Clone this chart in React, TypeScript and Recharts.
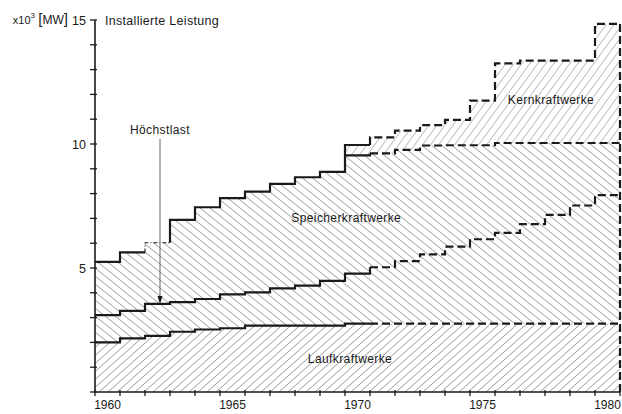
import React from 'react';
import { ComposedChart, Area, Line, XAxis, YAxis, ReferenceLine, ReferenceDot } from 'recharts';

// ---- data (x10^3 MW), one value per year ----
const years = [1960, 1961, 1962, 1963, 1964, 1965, 1966, 1967, 1968, 1969, 1970, 1971, 1972, 1973, 1974, 1975, 1976, 1977, 1978, 1979, 1980];
const laufkraftwerke = [2.0, 2.16, 2.26, 2.43, 2.52, 2.57, 2.68, 2.68, 2.68, 2.68, 2.76, 2.76, 2.76, 2.76, 2.76, 2.76, 2.76, 2.76, 2.76, 2.76, 2.76];
const speicherOben = [5.25, 5.63, 6.02, 6.94, 7.45, 7.82, 8.08, 8.39, 8.66, 8.88, 9.54, 9.62, 9.76, 9.94, 9.95, 9.95, 10.04, 10.04, 10.04, 10.04, 10.04];
const gesamt = [5.25, 5.63, 6.02, 6.94, 7.45, 7.82, 8.08, 8.39, 8.66, 8.88, 9.96, 10.27, 10.54, 10.76, 10.97, 11.75, 13.25, 13.36, 13.36, 13.36, 14.84];
const hoechstlast = [3.1, 3.27, 3.55, 3.62, 3.75, 3.94, 4.02, 4.18, 4.29, 4.48, 4.77, 5.03, 5.28, 5.55, 5.86, 6.16, 6.42, 6.77, 7.14, 7.52, 7.94];

const xTickLabels = [1960, 1965, 1970, 1975, 1980];
const yTicks = [0, 1, 2, 3, 4, 5, 6, 7, 8, 9, 10, 11, 12, 13, 14, 15];
const yTickLabels = [5, 10, 15];

const LAST_SOLID_YEAR = 1970;
const KERN_START_YEAR = 1970;
const THIN_YEAR = 1962;

const INK = '#1a1a1a';
const HATCH = '#8c8c8c';
const FONT = '"Liberation Sans", Arial, Helvetica, sans-serif';

// ---- build table for the library ----
const n = years.length;
const splitRow = years.indexOf(LAST_SOLID_YEAR) + 1;
const kernRow = years.indexOf(KERN_START_YEAR);
const t = years.indexOf(THIN_YEAR);

const rows = [] as any[];
for (let j = 0; j <= n; j++) {
  const i = Math.min(j, n - 1);
  const p = Math.max(j - 1, 0);
  rows.push({
    x: years[0] - 0.5 + j,
    laufBand: [0, laufkraftwerke[i]],
    speicherBand: [laufkraftwerke[i], speicherOben[i]],
    kernBand: [speicherOben[i], gesamt[i]],
    laufSolid: j <= splitRow ? laufkraftwerke[i] : null,
    laufDash: j >= splitRow ? laufkraftwerke[i] : null,
    hlSolid: j <= splitRow ? hoechstlast[i] : null,
    hlDash: j >= splitRow ? hoechstlast[i] : null,
    midSolid: j >= kernRow && j <= splitRow ? speicherOben[i] : null,
    midDash: j >= splitRow ? speicherOben[i] : null,
    totA: j < t ? gesamt[j] : j === t ? gesamt[t - 1] : null,
    totThin: j === t ? gesamt[t - 1] : j === t + 1 ? gesamt[t] : null,
    totB: j >= t + 1 && j <= splitRow ? gesamt[p] : null,
    totDash: j >= splitRow ? gesamt[p] : null,
  });
}

const xBoundaries = [...years.map((y) => y - 0.5), years[n - 1] + 0.5];
const xTicks = [...xBoundaries, ...xTickLabels];

const XTick = (props: any) => {
  const { x, y, payload } = props;
  const v = payload.value;
  if (v % 1 !== 0) {
    return <line x1={x} x2={x} y1={y - 2} y2={y + 4} stroke={INK} strokeWidth={1.3} />;
  }
  return (
    <text x={x} y={y + 17} textAnchor="middle" fontSize={12} fill={INK} fontFamily={FONT}>
      {v}
    </text>
  );
};

const YTick = (props: any) => {
  const { x, y, payload } = props;
  const v = payload.value;
  return (
    <g>
      <line x1={x - 5} x2={x + 2} y1={y} y2={y} stroke={INK} strokeWidth={1.3} />
      {yTickLabels.includes(v) && (
        <text x={x - 9} y={y + 4.5} textAnchor="end" fontSize={12.5} fill={INK} fontFamily={FONT}>
          {v}
        </text>
      )}
    </g>
  );
};

const textShape = (label: string, size = 12, spacing = 0.4) => (props: any) => (
  <text
    x={props.cx}
    y={props.cy + 4}
    textAnchor="middle"
    fontSize={size}
    letterSpacing={spacing}
    fill={INK}
    fontFamily={FONT}
  >
    {label}
  </text>
);

const headerShape = (props: any) => {
  const { cx, cy } = props;
  return (
    <g fontFamily={FONT} fill={INK}>
      <text x={cx - 27} y={cy + 4} textAnchor="end" fontSize={12}>
        <tspan fontSize={11}>x10</tspan>
        <tspan dy={-6} fontSize={8}>3</tspan>
        <tspan dy={6} fontSize={12}> </tspan>
        <tspan fontSize={15}>[</tspan>
        <tspan fontSize={12}>MW</tspan>
        <tspan fontSize={15}>]</tspan>
      </text>
      <text x={cx + 10} y={cy + 4.5} fontSize={12.5} letterSpacing={0.3}>
        Installierte Leistung
      </text>
    </g>
  );
};

const arrowHead = (props: any) => {
  const { cx, cy } = props;
  return <polygon points={`${cx - 2.5},${cy - 8} ${cx + 2.5},${cy - 8} ${cx},${cy}`} fill={INK} />;
};

export default function App() {
  const lineCommon = {
    dot: false,
    activeDot: false,
    isAnimationActive: false,
    connectNulls: false,
    stroke: INK,
    strokeWidth: 2.2,
    legendType: 'none' as const,
  };
  const dash = '8 4';
  return (
    <div style={{ position: 'absolute', left: 0, top: 0, width: 622, height: 414, background: '#fff' }}>
      <ComposedChart
        width={622}
        height={414}
        data={rows}
        margin={{ top: 20, right: 2, bottom: 0, left: 0 }}
        style={{ fontFamily: FONT }}
      >
        <defs>
          <pattern id="hatchLauf" patternUnits="userSpaceOnUse" width={9} height={8}>
            <path d="M0,8 L9,0 M-1,0.89 L1,-0.89 M8,8.89 L10,7.11" stroke={HATCH} strokeWidth={0.9} fill="none" />
          </pattern>
          <pattern id="hatchSpeicher" patternUnits="userSpaceOnUse" width={10} height={8}>
            <path d="M0,0 L10,8 M9,-0.8 L11,0.8 M-1,7.2 L1,8.8" stroke={HATCH} strokeWidth={0.9} fill="none" />
          </pattern>
          <pattern id="hatchKern" patternUnits="userSpaceOnUse" width={8} height={11}>
            <path d="M0,11 L8,0 M-0.8,1.1 L0.8,-1.1 M7.2,12.1 L8.8,9.9" stroke="#a0a0a0" strokeWidth={0.8} fill="none" />
          </pattern>
        </defs>

        <XAxis
          dataKey="x"
          type="number"
          domain={[xBoundaries[0], xBoundaries[xBoundaries.length - 1]]}
          ticks={xTicks}
          interval={0}
          tickSize={0}
          tickMargin={0}
          tickLine={false}
          tick={<XTick />}
          axisLine={{ stroke: INK, strokeWidth: 1.6 }}
          height={22}
          allowDataOverflow
        />
        <YAxis
          type="number"
          domain={[0, 15]}
          ticks={yTicks}
          interval={0}
          tickSize={0}
          tickMargin={0}
          tickLine={false}
          tick={<YTick />}
          axisLine={{ stroke: INK, strokeWidth: 1.6 }}
          width={95}
          allowDataOverflow
        />

        <Area dataKey="laufBand" type="stepAfter" stroke="none" fill="url(#hatchLauf)" fillOpacity={1} isAnimationActive={false} dot={false} activeDot={false} legendType="none" />
        <Area dataKey="speicherBand" type="stepAfter" stroke="none" fill="url(#hatchSpeicher)" fillOpacity={1} isAnimationActive={false} dot={false} activeDot={false} legendType="none" />
        <Area dataKey="kernBand" type="stepAfter" stroke="none" fill="url(#hatchKern)" fillOpacity={1} isAnimationActive={false} dot={false} activeDot={false} legendType="none" />

        <Line dataKey="laufSolid" type="stepAfter" {...lineCommon} />
        <Line dataKey="laufDash" type="stepAfter" {...lineCommon} strokeDasharray={dash} />
        <Line dataKey="hlSolid" type="stepAfter" {...lineCommon} />
        <Line dataKey="hlDash" type="stepAfter" {...lineCommon} strokeDasharray={dash} />
        <Line dataKey="midSolid" type="stepAfter" {...lineCommon} />
        <Line dataKey="midDash" type="stepAfter" {...lineCommon} strokeDasharray={dash} />
        <Line dataKey="totA" type="stepAfter" {...lineCommon} />
        <Line dataKey="totThin" type="stepBefore" {...lineCommon} strokeWidth={1.1} strokeDasharray="4 2 1 2" />
        <Line dataKey="totB" type="stepBefore" {...lineCommon} />
        <Line dataKey="totDash" type="stepBefore" {...lineCommon} strokeDasharray={dash} />

        <ReferenceLine
          segment={[
            { x: xBoundaries[n], y: 0 },
            { x: xBoundaries[n], y: gesamt[n - 1] },
          ]}
          stroke={INK}
          strokeWidth={2.2}
          strokeDasharray={dash}
          ifOverflow="visible"
        />
        <ReferenceLine
          segment={[
            { x: 1962.1, y: 10.2 },
            { x: 1962.1, y: hoechstlast[t] + 0.2 },
          ]}
          stroke="#555"
          strokeWidth={0.9}
          ifOverflow="visible"
        />
        <ReferenceDot x={1962.1} y={hoechstlast[t]} r={0} shape={arrowHead} ifOverflow="visible" />

        <ReferenceDot x={1962.1} y={10.56} r={0} shape={textShape('Höchstlast')} ifOverflow="visible" />
        <ReferenceDot x={1969.55} y={7.0} r={0} shape={textShape('Speicherkraftwerke')} ifOverflow="visible" />
        <ReferenceDot x={1969.7} y={1.33} r={0} shape={textShape('Laufkraftwerke')} ifOverflow="visible" />
        <ReferenceDot x={1977.74} y={11.77} r={0} shape={textShape('Kernkraftwerke')} ifOverflow="visible" />
        <ReferenceDot x={xBoundaries[0]} y={15} r={0} shape={headerShape} ifOverflow="visible" />
      </ComposedChart>
    </div>
  );
}
